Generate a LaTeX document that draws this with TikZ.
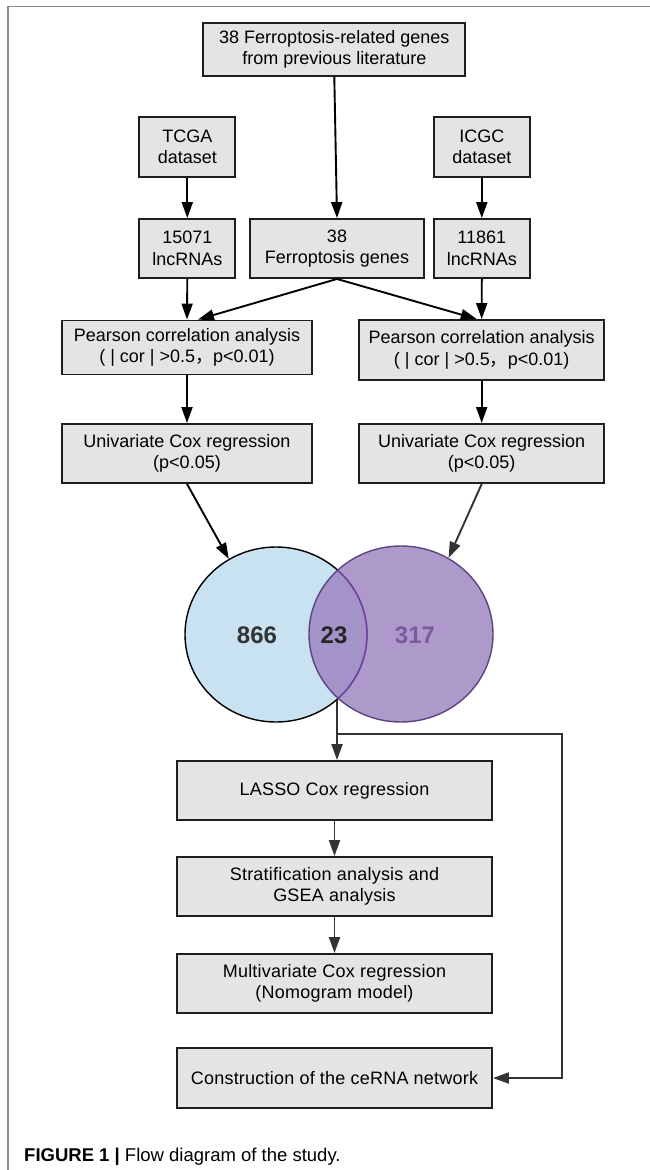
\documentclass[tikz,border=0pt]{standalone}
\usepackage{fontspec}
\setmainfont{Liberation Sans}
\newfontfamily\cjkfont{Noto Sans CJK SC}
\newfontfamily\widefont[LetterSpace=1.2]{Liberation Sans}
\usetikzlibrary{arrows.meta,shapes.geometric,calc}
\definecolor{boxfill}{HTML}{E4E4E4}
\definecolor{boxline}{HTML}{1E1E1E}
\definecolor{vblue}{HTML}{C8E2F2}
\definecolor{vpurple}{HTML}{9A80BE}
\definecolor{vborder}{HTML}{5B4482}
\definecolor{vinner}{HTML}{6A3FA0}
\definecolor{vtext}{HTML}{7B5AA0}
\definecolor{framegray}{HTML}{8A8A8A}
\begin{document}
\begin{tikzpicture}[x=1pt,y=-1pt,
  box/.style={draw=boxline, fill=boxfill, line width=1.9pt, inner sep=0pt, align=center,
    font=\fontsize{18}{21.5}\selectfont},
  lowbox/.style={box, font=\widefont\fontsize{18}{21.5}\selectfont},
  arr/.style={-{Triangle[length=16pt,width=11pt]}, line width=1.9pt, draw=black},
  arrg/.style={-{Triangle[length=16pt,width=11pt]}, line width=1.9pt, draw=black!80},
  vnum/.style={font=\fontsize{24}{24}\selectfont\bfseries, inner sep=0pt}]
\useasboundingbox (0,0) rectangle (650,1170);
\fill[white] (0,0) rectangle (650,1170);
% frame
\draw[framegray, line width=1.6pt] (8,1170) -- (8,6.5) -- (650,6.5);

% top part
\node[box, minimum width=262pt, minimum height=53pt] (top) at (334.3,49.5)
  {38 Ferroptosis-related genes\\from previous literature};
\node[box, minimum width=96pt, minimum height=60pt] (tcga) at (187.3,147) {TCGA\\dataset};
\node[box, minimum width=96pt, minimum height=60pt] (icgc) at (481.8,147) {ICGC\\dataset};
\node[box, minimum width=96pt, minimum height=59pt] (l1) at (187.3,248.5) {15071\\lncRNAs};
\node[box, minimum width=174pt, minimum height=59pt] (fg) at (337,248.5) {38\\Ferroptosis genes};
\node[box, minimum width=96pt, minimum height=59pt] (l2) at (481.8,248.5) {11861\\lncRNAs};
\node[box, minimum width=250pt, minimum height=54pt] (pl) at (187,347.5)
  {Pearson correlation analysis\\( | cor | >0.5{\cjkfont ，}p<0.01)};
\node[box, minimum width=245pt, minimum height=60pt] (pr) at (481.7,350)
  {Pearson correlation analysis\\( | cor | >0.5{\cjkfont ，}p<0.01)};
\node[box, minimum width=250pt, minimum height=59pt] (ul) at (187,453.5)
  {Univariate Cox regression\\(p<0.05)};
\node[box, minimum width=245pt, minimum height=59pt] (ur) at (481.7,453.5)
  {Univariate Cox regression\\(p<0.05)};

\draw[arr] (top.south) -- (fg.north);
\draw[arr] (tcga.south) -- (l1.north);
\draw[arr] (icgc.south) -- (l2.north);
\draw[arr] (l1.south) -- (pl.north);
\draw[arr] (l2.south) -- (pr.north);
\draw[arr] (fg.south) -- ([xshift=11pt]pl.north);
\draw[arr] (fg.south) -- ([xshift=-5pt]pr.north);
\draw[arr] (pl.south) -- (ul.north);
\draw[arr] (pr.south) -- (ur.north);

% Venn
\node[ellipse, minimum width=182pt, minimum height=175pt, inner sep=0pt,
  fill=vblue, draw=black, line width=1.4pt] (vl) at (276,634.5) {};
\node[ellipse, minimum width=184pt, minimum height=176pt, inner sep=0pt,
  fill=vpurple, fill opacity=0.8, draw=vborder, line width=1.4pt] (vr) at (401,634) {};
\begin{scope}
  \clip (401,634) ellipse [x radius=92, y radius=88];
  \draw[vinner, line width=1.4pt] (276,634.5) ellipse [x radius=91, y radius=87.5];
\end{scope}
\node[vnum, text=black!80] (n866) at (257,635.5) {866};
\node[vnum, text=black!85] (n23) at (334,635.5) {23};
\node[vnum, text=vtext] (n317) at (415,635.5) {317};

\draw[arr] (ul.south) -- (vl.122);
\draw[arrg] (ur.south) -- (vr.58);

% bottom part
\node[lowbox, minimum width=315pt, minimum height=59pt] (lasso) at (334.5,790.5) {LASSO Cox regression};
\node[lowbox, minimum width=315pt, minimum height=59pt] (strat) at (334.5,886.5)
  {Stratification analysis and\\GSEA analysis};
\node[lowbox, minimum width=315pt, minimum height=59pt] (multi) at (334.5,983.5)
  {Multivariate Cox regression\\(Nomogram model)};
\node[lowbox, minimum width=315pt, minimum height=60pt] (cerna) at (334.5,1078)
  {Construction of the ceRNA network};

\coordinate (vx) at (337,700);
\coordinate (br) at (337,734);
\coordinate (ret) at (562.3,734);
\draw[arrg] (vx) -- (vx |- lasso.north);
\draw[arrg] (br) -- (ret) |- (cerna.east);
\draw[arrg] (lasso.south) -- (strat.north);
\draw[arrg] (strat.south) -- (multi.north);

% caption
\node[anchor=base west, inner sep=0pt, font=\fontsize{18.5}{20}\selectfont] (cap) at (24,1161.5)
  {\textbf{FIGURE 1 |} Flow diagram of the study.};
\end{tikzpicture}
\end{document}
